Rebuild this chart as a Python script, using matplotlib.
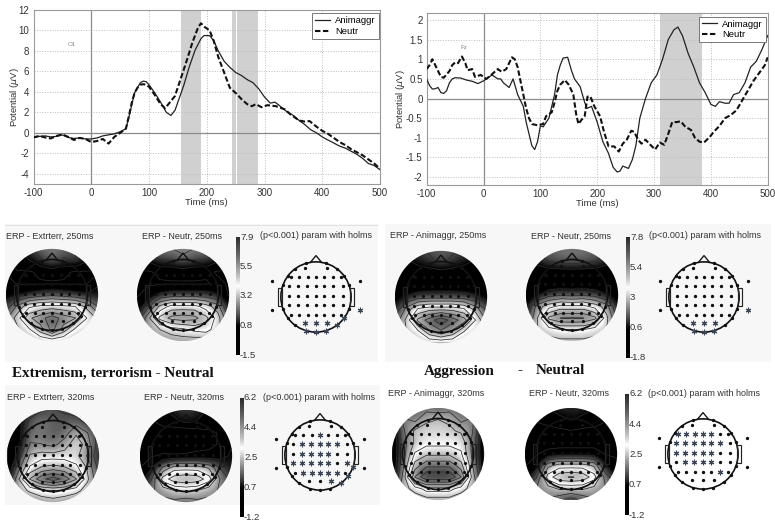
import numpy as np
import matplotlib
matplotlib.use('Agg')
import matplotlib.pyplot as plt
from matplotlib.colors import LinearSegmentedColormap
from matplotlib.patches import Circle, Polygon, Rectangle

plt.rcParams['font.family'] = ['Liberation Sans', 'DejaVu Sans']
plt.rcParams['axes.unicode_minus'] = False

W, H = 775, 522

# ERP curves, O1 site
o1_t_solid = [-100,-90,-80,-70,-60,-50,-40,-30,-20,-10,0,10,20,30,40,50,60,65,70,75,80,85,90,95,100,110,120,130,138,145,150,160,170,180,190,195,205,212,220,230,240,250,260,270,280,290,300,310,318,325,340,350,360,370,380,390,400,410,420,430,440,450,460,470,480,490,500]
o1_solid = [-0.45,-0.35,-0.3,-0.4,-0.35,-0.2,-0.45,-0.55,-0.5,-0.6,-0.6,-0.5,-0.3,-0.2,-0.1,0.1,0.4,1.5,2.7,3.9,4.4,4.9,5.05,5.0,4.7,3.9,3.0,2.0,1.7,2.2,3.0,4.6,6.5,8.1,9.2,9.5,9.5,9.0,8.0,7.0,6.4,5.9,5.6,5.2,4.9,4.3,3.5,2.9,3.0,2.7,2.0,1.7,1.2,0.8,0.3,0.0,-0.4,-0.7,-1.0,-1.3,-1.5,-1.8,-2.1,-2.5,-3.0,-3.2,-3.6]
o1_t_dash = [-100,-90,-80,-70,-60,-50,-40,-30,-20,-10,0,10,20,30,40,50,60,65,70,75,80,85,90,95,100,110,120,128,135,145,155,165,175,185,190,195,205,212,220,230,240,250,260,270,278,285,295,305,320,335,345,360,370,378,390,400,410,420,430,440,450,460,470,480,490,500]
o1_dash = [-0.45,-0.3,-0.45,-0.55,-0.3,-0.15,-0.4,-0.7,-0.5,-0.6,-0.9,-0.8,-0.6,-1.05,-0.4,0.0,0.4,1.6,2.9,3.9,4.4,4.7,4.75,4.7,4.5,3.7,2.8,2.4,2.9,3.6,5.3,7.0,8.8,10.3,10.7,10.4,10.0,9.0,7.4,5.9,4.4,3.9,3.3,2.8,2.6,2.8,2.5,2.7,2.6,2.3,1.8,1.2,1.1,1.15,0.6,0.2,-0.1,-0.5,-0.9,-1.2,-1.6,-1.9,-2.2,-2.6,-3.0,-3.5]

# ERP curves, Fz site
fz_t_solid = [-100,-95,-90,-85,-80,-75,-70,-65,-60,-55,-50,-40,-30,-20,-10,0,5,15,25,30,35,45,52,60,70,75,80,85,90,95,100,105,115,120,125,130,135,140,148,155,160,170,178,182,190,200,210,220,228,235,240,245,255,262,268,275,285,295,305,315,325,335,342,350,360,370,380,390,400,408,415,425,432,440,450,460,470,480,490,500]
fz_solid = [0.5,0.33,0.24,0.25,0.28,0.15,0.13,0.2,0.4,0.5,0.53,0.52,0.47,0.44,0.38,0.45,0.5,0.6,0.5,0.5,0.4,0.28,0.5,0.1,-0.2,-0.6,-0.9,-1.2,-1.3,-1.1,-0.7,-0.72,-0.5,-0.2,0.1,0.6,0.85,1.03,1.05,0.7,0.5,0.3,-0.1,-0.25,-0.2,-0.6,-1.1,-1.4,-1.75,-1.87,-1.85,-1.72,-1.78,-1.55,-1.2,-0.5,0.0,0.4,0.6,1.0,1.5,1.75,1.82,1.6,1.15,0.8,0.4,0.15,-0.15,-0.2,-0.08,-0.12,-0.12,0.1,0.15,0.4,0.8,0.95,1.25,1.6]
fz_t_dash = [-100,-95,-90,-85,-80,-75,-70,-60,-55,-50,-45,-38,-32,-28,-20,-15,-5,5,15,25,32,40,50,55,60,65,70,75,80,85,95,105,110,120,125,130,135,143,150,158,163,167,172,178,183,188,195,205,212,220,230,238,245,252,260,265,272,278,285,295,302,310,318,325,332,340,347,355,365,372,380,388,398,405,415,425,435,445,455,465,475,485,495,500]
fz_dash = [0.75,0.85,1.0,0.85,0.7,0.55,0.53,0.7,0.85,0.92,0.9,1.07,0.9,0.72,0.75,0.55,0.6,0.5,0.62,0.75,0.68,0.75,1.05,1.0,0.8,0.45,0.1,-0.25,-0.5,-0.65,-0.68,-0.65,-0.45,-0.35,-0.1,0.2,0.35,0.47,0.35,0.1,-0.4,-0.65,-0.55,-0.45,0.05,0.05,-0.2,-0.45,-0.85,-1.22,-1.22,-1.35,-1.15,-1.05,-0.82,-0.85,-1.05,-1.15,-1.05,-1.2,-1.3,-1.12,-1.18,-0.9,-0.6,-0.6,-0.58,-0.72,-0.8,-1.0,-1.1,-1.12,-0.98,-0.85,-0.7,-0.5,-0.42,-0.3,-0.05,0.2,0.45,0.65,0.85,1.05]

o1_spans = [(155, 190), (243, 251), (253, 288)]
fz_spans = [(311, 384)]

# scalp maps, rows run front to back on a 9x9 grid, values in microvolts
map_extr_250 = [
 [1,1,1.5,2,2.4,2,1.5,1,1],
 [0,0.5,0.8,1.5,2.2,1.5,1.8,1,0.5],
 [0,0,0,0.2,0.3,0.2,0,0,0],
 [0.5,0,0,0,0,0,0,0,0.8],
 [0.6,0.7,1,1.3,1.5,1.3,1.1,0.9,1],
 [1.2,2.6,3.8,4.2,4.3,4.2,4,3,1.6],
 [2.2,3.6,5.4,6,6.8,6,5.6,4,3],
 [2.2,3,3.8,5.2,6.6,5.2,3.8,3.4,3],
 [3,3,3,3.2,3.4,3.2,3,3,3]]
map_neutr_250a = [
 [2,2,2.2,2.4,2.6,2.4,2.2,2,2],
 [0.4,1,1.6,1.6,2.2,1.6,1.6,1,0.4],
 [0,0,0.2,0.3,0.3,0.3,0.2,0,0],
 [0,0,0,0,0,0,0,0.2,0],
 [0,0.3,1,1.2,1.2,1.2,1.2,0.8,0],
 [0.3,1.5,3.4,4.3,4.3,4.3,3.6,2.8,0.5],
 [1,3,5,5.8,6,5.8,5,3.6,1.6],
 [2,2.6,3.2,3.6,3.8,4.2,4.4,3.4,2.5],
 [2.5,2.5,2.7,2.7,2.8,2.7,2.6,2.5,2.5]]
map_anim_250 = [
 [1,1,1.2,1.5,1.8,1.5,1.2,1,1],
 [0.2,0.4,0.8,1.2,1.5,1.2,0.8,0.4,0.2],
 [0,0,0,0,0.1,0,0,0,0],
 [0,0,0,0,0,0,0,0,0],
 [0.2,0.6,1,1.1,1.1,1.1,1,0.7,0.3],
 [0.6,2.4,3.8,4.2,4.2,4.2,3.8,2.6,1],
 [1.6,3.2,5.6,6.6,7.6,6.6,5.8,3.8,2],
 [2.4,3,3.6,5.2,6,5.2,3.8,3.2,2.6],
 [2.6,2.6,2.8,3,3,3,2.8,2.6,2.6]]
map_neutr_250b = [
 [1.5,1.5,1.8,2,2,2,1.8,1.5,1.5],
 [0.3,1,1.5,1.7,1.9,1.7,1.5,1,0.3],
 [0,0,0.2,0.2,0.2,0.2,0.2,0,0],
 [0,0,0,0,0,0,0,0,0],
 [0,0.3,1.1,1.3,1.2,1.3,1.1,0.5,0],
 [0.3,2.6,3.5,4.1,4,4.1,3.5,2.6,0.4],
 [1,3,5.6,6.2,6.3,6.2,5.6,3.2,1.2],
 [2.3,3,3.4,3.8,3.8,3.8,3.4,3,2.5],
 [2.6,2.6,2.7,2.8,2.8,2.8,2.7,2.6,2.6]]
map_extr_320 = [
 [0.6,0.6,0.9,1.2,1.3,1.2,0.9,0.6,0.6],
 [0.1,0.4,1.4,1.8,1.5,1.4,1.6,1,0.6],
 [0,0.3,1.8,1.7,1.4,1.6,2.4,1.9,0.9],
 [0,0.4,1.9,1.9,1.7,2.2,2.9,2.2,0.9],
 [0,0.8,2.6,2.8,2.8,2.8,2.7,1.8,0.8],
 [0,1.6,3.2,3.8,4,3.8,3.3,2.4,1],
 [0.4,2.4,4.4,5.4,5.9,5.4,4.4,2.6,1.3],
 [1.6,2.2,2.6,3,3.1,3,2.7,2.2,1.8],
 [1.8,1.8,1.9,2,2.2,2,1.9,1.8,1.8]]
map_neutr_320a = [
 [0.6,0.6,0.6,0.9,1.2,0.9,0.6,0.6,0.6],
 [0,0,0.2,0.5,0.8,0.6,0.4,0.6,0.6],
 [-0.2,-0.2,-0.2,-0.4,-0.5,-0.3,-0.1,0.1,0.4],
 [-0.2,-0.2,-0.2,-0.3,-0.5,-0.2,-0.1,0.1,0.6],
 [-0.1,0,0.1,0.1,0.2,0.2,0.2,0.4,0.8],
 [0,0.6,2,2.8,2.8,2.8,2.4,1.2,0.7],
 [0.4,1.2,3.4,4.1,4.3,4.1,3.4,1.8,1],
 [1.2,1.8,2.1,2.5,2.6,2.5,2.1,1.8,1.5],
 [1.6,1.6,1.7,1.7,1.5,1.7,1.7,1.6,1.6]]
map_anim_320 = [
 [1.2,1.2,1.4,1.6,1.4,1.6,1.4,1.2,1.2],
 [0.4,2,1.7,2.4,2.5,2.4,1.7,2,0.4],
 [0,1.8,2.6,2.7,2.7,2.6,2.4,1.9,0.2],
 [0,1.6,2.6,2.9,2.9,2.9,2.9,1.7,0],
 [0,1.6,3.2,3.6,3.6,3.6,3.2,1.7,0],
 [0,1.8,4,4.8,4.8,4.8,4,1.9,0.1],
 [0.2,2.1,5,6.2,6.2,6.2,5,2.2,0.4],
 [1.2,2.2,2.8,3.4,3.4,3.4,2.8,2.2,1.3],
 [1.8,1.9,2,2.2,2.2,2.2,2,1.9,1.8]]
map_neutr_320b = [
 [0.5,0.5,0.7,0.9,1,0.9,0.7,0.5,0.5],
 [0,0.1,0.2,0.5,0.7,0.5,0.3,0.1,0],
 [-0.2,-0.2,-0.1,-0.1,0,-0.1,-0.1,-0.2,-0.1],
 [-0.2,-0.2,-0.2,-0.2,-0.2,-0.2,-0.2,-0.1,-0.1],
 [-0.1,0,0.2,0.3,0.3,0.3,0.3,0,0],
 [0,0.3,2.3,2.8,2.8,2.8,2.4,0.5,0.1],
 [0.4,1.2,3.4,4.2,4.4,4.2,3.4,1.6,0.6],
 [1.5,1.9,2.2,2.6,2.6,2.6,2.3,1.9,1.6],
 [1.7,1.7,1.8,1.4,0.9,1.4,1.8,1.7,1.7]]

# significance maps: '*' marks a significant electrode
sig_a = ["..", ".......", ".......", ".......", ".......", ".......", "***", ".....*****.......", "...*"]
sig_b = ["..", "...*...", ".*****.", ".****..", "*****.*", ".*****.", "..*", "....***..........", "...."]
sig_c = ["..", ".......", ".......", ".......", ".......", ".......", "***", ".......***.......", "...*"]
sig_d = ["..", "*****..", "******.", "*****..", ".****..", ".....*.", "...", ".................", "...."]

row_y = [0.83, 0.57, 0.3, 0.04, -0.24, -0.5, -0.74]
col_x = [[-0.3, 0.3],
         [-0.72, -0.48, -0.24, 0, 0.24, 0.48, 0.72],
         [-0.76, -0.52, -0.26, 0, 0.24, 0.48, 0.76],
         [-0.76, -0.52, -0.26, 0, 0.24, 0.48, 0.76],
         [-0.76, -0.52, -0.26, 0, 0.24, 0.48, 0.76],
         [-0.72, -0.48, -0.24, 0, 0.24, 0.48, 0.72],
         [-0.3, 0, 0.3]]
rim_deg = [17, 36, 53, 70, 110, 126, 143, 163, 180, 197, 217, 234, 250, 290, 307, 324, 343]
outer_xy = [(-1.25, 0.45), (1.25, 0.45), (-1.25, -0.38), (1.25, -0.38)]

ticks_250a = [7.9, 5.5, 3.2, 0.8, -1.5]
ticks_250b = [7.8, 5.4, 3, 0.6, -1.8]
ticks_320 = [6.2, 4.4, 2.5, 0.7, -1.2]

cmap = LinearSegmentedColormap.from_list('erp', [
    (0, '#000000'), (0.24, '#000000'), (0.32, '#404040'), (0.46, '#a4a4a4'),
    (0.58, '#ffffff'), (0.66, '#c4c4c4'), (0.84, '#666666'), (1, '#2a2a2a')])


def px_axes(x0, y0, w, h, **kw):
    return fig.add_axes([x0 / W, 1 - (y0 + h) / H, w / W, h / H], **kw)


def px_text(x, y, s, **kw):
    kw.setdefault('fontsize', 6.5)
    kw.setdefault('color', '#333333')
    kw.setdefault('va', 'center')
    fig.text(x / W, 1 - y / H, s, **kw)


def erp_panel(box, t1, y1, t2, y2, spans, ylim, yticks, ylabels, site, site_xy, leg, ylab_x):
    ax = px_axes(*box)
    for a, b in spans:
        ax.axvspan(a, b, color='#d0d0d0', lw=0, zorder=1)
    ax.grid(True, ls=':', color='#bdbdbd', lw=0.7, zorder=0)
    ax.axhline(0, color='#8a8a8a', lw=0.9, zorder=2)
    ax.axvline(0, color='#8a8a8a', lw=0.9, zorder=2)
    l1, = ax.plot(t1, y1, color='#222222', lw=0.9, zorder=3)
    l2, = ax.plot(t2, y2, color='#111111', lw=1.5, ls=(0, (2.6, 1.2)), zorder=3)
    ax.set_xlim(-100, 500)
    ax.set_ylim(*ylim)
    ax.set_xticks(range(-100, 501, 100))
    ax.set_yticks(yticks)
    ax.set_yticklabels(ylabels)
    ax.tick_params(labelsize=7, length=0, pad=3, colors='#333333')
    ax.set_xlabel('Time (ms)', fontsize=6.8, labelpad=0, color='#333333')
    ax.set_ylabel('Potential ($\\mu$V)', fontsize=6.8, color='#333333')
    ax.yaxis.set_label_coords(ylab_x, 0.5)
    for s in ax.spines.values():
        s.set_color('#9a9a9a')
        s.set_linewidth(0.8)
    ax.text(site_xy[0], site_xy[1], site, fontsize=4.5, color='#888888', ha='center', va='center')
    lg = ax.legend([l1, l2], ['Animaggr', 'Neutr'], loc='upper right', bbox_to_anchor=leg,
                   fontsize=6.8, frameon=True, fancybox=False, framealpha=1,
                   edgecolor='#777777', borderpad=0.3, labelspacing=0.2, handlelength=1.6,
                   handletextpad=0.6, borderaxespad=0)
    lg.get_frame().set_linewidth(0.7)
    return ax


def head_outline(ax, lw=1.2):
    ax.add_patch(Circle((0, 0), 1, fill=False, ec='#111111', lw=lw, zorder=5))
    ax.add_patch(Polygon([(-0.16, 0.985), (0, 1.18), (0.16, 0.985)], closed=False, fill=False,
                         ec='#111111', lw=lw * 0.8, zorder=5))
    for sx in (-1, 1):
        ax.add_patch(Rectangle((sx * 1.02 - 0.05, -0.27), 0.1, 0.54, fill=False,
                               ec='#222222', lw=lw * 0.7, zorder=5))


def electrodes():
    pts = []
    for y, xs in zip(row_y, col_x):
        pts.append([(x, y) for x in xs])
    rim = [(np.sin(np.radians(d)), np.cos(np.radians(d))) for d in rim_deg]
    pts.append(rim)
    pts.append(outer_xy)
    return pts


def topo(cx, cy, grid, vmin, vmax):
    r_px = 46.5
    ax = px_axes(cx - r_px, cy - r_px, 2 * r_px, 2 * r_px)
    ax.set_xlim(-1.31, 1.31)
    ax.set_ylim(-1.31, 1.31)
    ax.axis('off')
    g = np.array(grid, dtype=float)
    disc = Circle((0, 0), 1.3, transform=ax.transData, fc='none', ec='none')
    ax.add_patch(disc)
    half = 1.3 + 2.6 / 16
    im = ax.imshow(g, extent=(-half, half, -half, half), origin='upper', cmap=cmap, vmin=vmin,
                   vmax=vmax, interpolation='bicubic', zorder=1)
    im.set_clip_path(disc)
    ax.set_xlim(-1.31, 1.31)
    ax.set_ylim(-1.31, 1.31)
    gv = np.linspace(1.3, -1.3, 9)
    cs = ax.contour(gv[::-1], gv, g, levels=np.linspace(vmin, vmax, 13), colors='#2c2c2c',
                    linewidths=0.55, zorder=2)
    cs.set_clip_path(disc)
    head_outline(ax, lw=1.3)
    rows = electrodes()
    for row in rows[:-1]:
        xs, ys = zip(*row)
        ax.plot(xs, ys, ls='', marker='o', ms=1.3, color='#111111', zorder=6)


def sig_map(cx, cy, marks):
    r_px = 46
    ax = px_axes(cx - r_px, cy - r_px, 2 * r_px, 2 * r_px)
    ax.set_xlim(-1.31, 1.31)
    ax.set_ylim(-1.31, 1.31)
    ax.axis('off')
    head_outline(ax, lw=1.2)
    for row, flags in zip(electrodes(), marks):
        for (x, y), f in zip(row, flags):
            if f == '*':
                ax.plot(x, y, ls='', marker=(6, 2, 0), ms=4, mew=0.8, color='#3a4658', zorder=6)
            else:
                ax.plot(x, y, ls='', marker='o', ms=1.4, color='#111111', zorder=6)


def colorbar(x, y0, y1, lo, hi, labels):
    ax = px_axes(x, y0, 3.4, y1 - y0)
    ax.imshow(np.linspace(hi, lo, 256)[:, None], aspect='auto', cmap=cmap, vmin=lo, vmax=hi)
    ax.axis('off')
    for i, lab in enumerate(labels):
        px_text(x + 4, y0 + (y1 - y0) * i / (len(labels) - 1), str(lab), fontsize=6.8)


fig = plt.figure(figsize=(W / 100, H / 100), dpi=100, facecolor='white')

# pale backgrounds behind the scalp map groups
bg = px_axes(0, 0, W, H)
bg.set_xlim(0, W)
bg.set_ylim(H, 0)
bg.axis('off')
for box in [(5, 224, 373, 138), (5, 385, 375, 120), (385, 224, 386, 138)]:
    bg.add_patch(Rectangle(box[:2], box[2], box[3], fc='#f7f7f7', ec='none'))
bg.plot([5, 378], [224.5, 224.5], color='#dddddd', lw=0.6)

erp_panel((33.5, 10, 346.5, 174), o1_t_solid, o1_solid, o1_t_dash, o1_dash, o1_spans, (-5, 12),
          list(range(-4, 13, 2)), [str(v) for v in range(-4, 13, 2)], 'O1', (-34, 8.6),
          (0.996, 0.982), -0.036)
erp_panel((426.7, 13.3, 341, 172), fz_t_solid, fz_solid, fz_t_dash, fz_dash, fz_spans, (-2.21, 2.17),
          [-2, -1.5, -1, -0.5, 0, 0.5, 1, 1.5, 2], ['-2', '-1.5', '-1', '-0.5', '0', '0.5', '1', '1.5', '2'],
          'Fz', (-35, 1.29), (0.994, 0.98), -0.058)

serif = dict(fontsize=10.9, family='Liberation Serif', weight='bold', color='#111111')

# top left group
px_text(6, 236, 'ERP - Extrterr, 250ms')
px_text(142, 236, 'ERP - Neutr, 250ms')
px_text(260, 236, '(p<0.001) param with holms')
topo(52, 295, map_extr_250, -1.5, 7.9)
topo(183, 295, map_neutr_250a, -1.5, 7.9)
colorbar(236, 237, 355, -1.5, 7.9, ticks_250a)
sig_map(316, 297, sig_a)

# bottom left group
px_text(12, 373, 'Extremism, terrorism - Neutral', **serif)
px_text(7, 397, 'ERP - Extrterr, 320ms')
px_text(144, 397, 'ERP - Neutr, 320ms')
px_text(263, 397, '(p<0.001) param with holms')
topo(53, 456, map_extr_320, -1.2, 6.2)
topo(186, 456, map_neutr_320a, -1.2, 6.2)
colorbar(240, 398, 517, -1.2, 6.2, ticks_320)
sig_map(320, 455, sig_b)

# top right group
px_text(390, 236, 'ERP - Animaggr, 250ms')
px_text(531, 236, 'ERP - Neutr, 250ms')
px_text(649, 236, '(p<0.001) param with holms')
topo(441, 297, map_anim_250, -1.8, 7.8)
topo(572, 295, map_neutr_250b, -1.8, 7.8)
colorbar(626, 237, 358, -1.8, 7.8, ticks_250b)
sig_map(704, 297, sig_c)

# bottom right group
px_text(424, 371, 'Aggression', **serif)
px_text(517, 371, '-', **serif)
px_text(536, 371, 'Neutral', **serif)
px_text(388, 393, 'ERP - Animaggr, 320ms')
px_text(529, 393, 'ERP - Neutr, 320ms')
px_text(648, 393, '(p<0.001) param with holms')
topo(438, 454, map_anim_320, -1.2, 6.2)
topo(571, 454, map_neutr_320b, -1.2, 6.2)
colorbar(625, 394, 515, -1.2, 6.2, ticks_320)
sig_map(703, 454, sig_d)

fig.savefig('out.png', dpi=100)
